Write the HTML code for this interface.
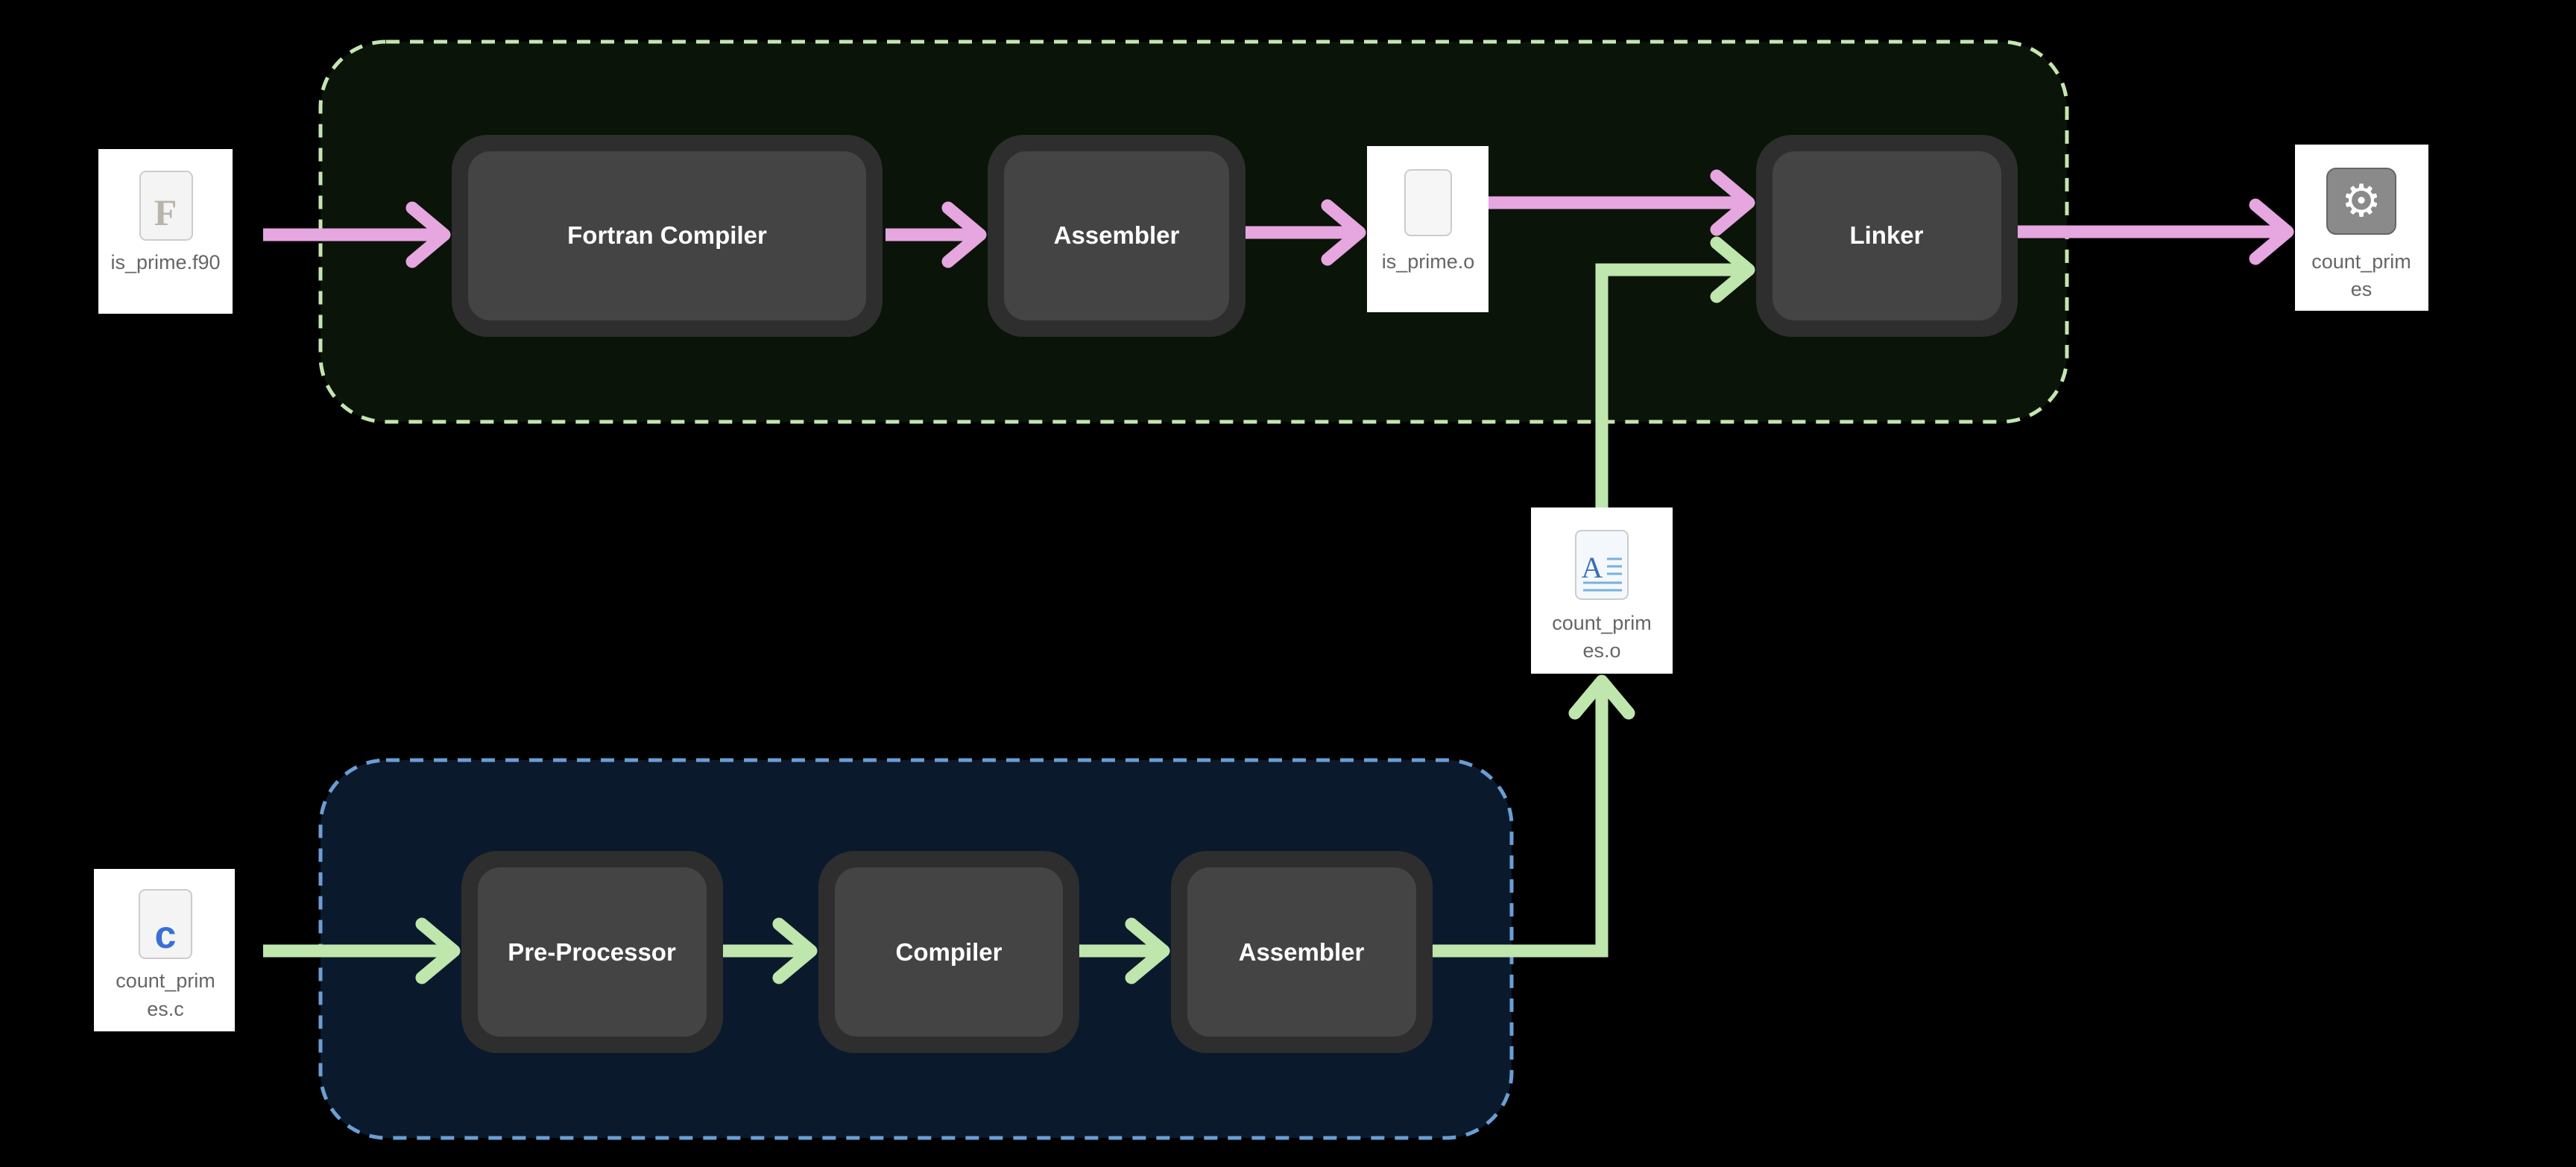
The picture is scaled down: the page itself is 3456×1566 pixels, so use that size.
<!DOCTYPE html>
<html><head><meta charset="utf-8"><style>
html,body{margin:0;padding:0;background:#000;}
svg{display:block}
</style></head><body>
<svg width="3456" height="1566" viewBox="0 0 3456 1566" xmlns="http://www.w3.org/2000/svg" font-family="Liberation Sans, sans-serif">
<rect width="3456" height="1566" fill="#000"/>
<!-- groups -->
<rect x="430" y="56" width="2343" height="510" rx="88" fill="#0a1408" stroke="#c4e6b0" stroke-width="5" stroke-dasharray="18 14"/>
<rect x="430" y="1020" width="1598" height="507" rx="88" fill="#0a1a2c" stroke="#6a9ed4" stroke-width="5" stroke-dasharray="18 14"/>
<!-- nodes -->
<g font-weight="bold" font-size="33" fill="#fff" text-anchor="middle">
<rect x="606" y="181" width="578" height="271" rx="48" fill="#2e2e2e"/>
<rect x="628" y="203" width="534" height="227" rx="30" fill="#444"/>
<text x="895" y="327">Fortran Compiler</text>
<rect x="1325" y="181" width="346" height="271" rx="48" fill="#2e2e2e"/>
<rect x="1347" y="203" width="302" height="227" rx="30" fill="#444"/>
<text x="1498" y="327">Assembler</text>
<rect x="2356" y="181" width="351" height="271" rx="48" fill="#2e2e2e"/>
<rect x="2378" y="203" width="307" height="227" rx="30" fill="#444"/>
<text x="2531" y="327">Linker</text>
<rect x="619" y="1142" width="351" height="271" rx="48" fill="#2e2e2e"/>
<rect x="641" y="1164" width="307" height="227" rx="30" fill="#444"/>
<text x="794" y="1289">Pre-Processor</text>
<rect x="1098" y="1142" width="350" height="271" rx="48" fill="#2e2e2e"/>
<rect x="1120" y="1164" width="306" height="227" rx="30" fill="#444"/>
<text x="1273" y="1289">Compiler</text>
<rect x="1571" y="1142" width="351" height="271" rx="48" fill="#2e2e2e"/>
<rect x="1593" y="1164" width="307" height="227" rx="30" fill="#444"/>
<text x="1746" y="1289">Assembler</text>
</g>
<!-- file tiles -->
<g font-size="27" fill="#666" text-anchor="middle">
<rect x="132" y="200" width="180" height="221" fill="#fff"/>
<rect x="188" y="230" width="70" height="92" rx="8" fill="#f4f4f4" stroke="#ccc" stroke-width="2"/>
<text x="222" y="302" font-family="Liberation Serif, serif" font-size="50" fill="#b8b4a8" font-weight="bold">F</text>
<text x="222" y="361">is_prime.f90</text>

<rect x="1834" y="196" width="163" height="223" fill="#fff"/>
<rect x="1885" y="228" width="62" height="88" rx="8" fill="#f6f6f6" stroke="#ccc" stroke-width="2"/>
<text x="1916" y="360">is_prime.o</text>

<rect x="3079" y="194" width="179" height="223" fill="#fff"/>
<rect x="3122" y="226" width="92" height="88" rx="12" fill="#8a8a8a" stroke="#666" stroke-width="2"/>
<text x="3168" y="290" font-size="60" fill="#fff">⚙</text>
<text x="3168" y="360">count_prim</text>
<text x="3168" y="397">es</text>

<rect x="2054" y="681" width="190" height="223" fill="#fff"/>
<rect x="2114" y="712" width="70" height="92" rx="8" fill="#f4f8fc" stroke="#ccc" stroke-width="2"/>
<text x="2136" y="775" font-family="Liberation Serif, serif" font-size="40" fill="#3a70b0">A</text>
<g stroke="#7ab0dc" stroke-width="3"><line x1="2156" y1="750" x2="2176" y2="750"/><line x1="2156" y1="760" x2="2176" y2="760"/><line x1="2156" y1="770" x2="2176" y2="770"/><line x1="2124" y1="782" x2="2176" y2="782"/><line x1="2124" y1="792" x2="2176" y2="792"/></g>
<text x="2149" y="845">count_prim</text>
<text x="2149" y="882">es.o</text>

<rect x="126" y="1166" width="189" height="218" fill="#fff"/>
<rect x="187" y="1194" width="70" height="92" rx="8" fill="#f4f4f4" stroke="#ccc" stroke-width="2"/>
<text x="222" y="1272" font-size="52" font-weight="bold" fill="#3a6fd8">c</text>
<text x="222" y="1325">count_prim</text>
<text x="222" y="1363">es.c</text>
</g>
<!-- connectors -->
<g fill="none" stroke="#e6a6df" stroke-width="17" stroke-linecap="round" stroke-linejoin="round">
<line x1="353" y1="315" x2="596" y2="315" stroke-linecap="butt"/><polyline points="553,279 596,315 553,351"/>
<line x1="1188" y1="315" x2="1315" y2="315" stroke-linecap="butt"/><polyline points="1272,279 1315,315 1272,351"/>
<line x1="1671" y1="312" x2="1824" y2="312" stroke-linecap="butt"/><polyline points="1781,276 1824,312 1781,348"/>
<line x1="1997" y1="272" x2="2346" y2="272" stroke-linecap="butt"/><polyline points="2303,236 2346,272 2303,308"/>
<line x1="2707" y1="311" x2="3069" y2="311" stroke-linecap="butt"/><polyline points="3026,275 3069,311 3026,347"/>
</g>
<g fill="none" stroke="#bfe6ad" stroke-width="17" stroke-linecap="round" stroke-linejoin="round">
<polyline points="2149,681 2149,362 2346,362" stroke-linecap="butt" stroke-linejoin="miter"/><polyline points="2303,326 2346,362 2303,398"/>
<line x1="353" y1="1276" x2="609" y2="1276" stroke-linecap="butt"/><polyline points="566,1240 609,1276 566,1312"/>
<line x1="970" y1="1276" x2="1088" y2="1276" stroke-linecap="butt"/><polyline points="1045,1240 1088,1276 1045,1312"/>
<line x1="1448" y1="1276" x2="1561" y2="1276" stroke-linecap="butt"/><polyline points="1518,1240 1561,1276 1518,1312"/>
<polyline points="1922,1276 2149,1276 2149,914" stroke-linecap="butt" stroke-linejoin="miter"/><polyline points="2113,957 2149,914 2185,957"/>
</g>
</svg>
</body></html>
